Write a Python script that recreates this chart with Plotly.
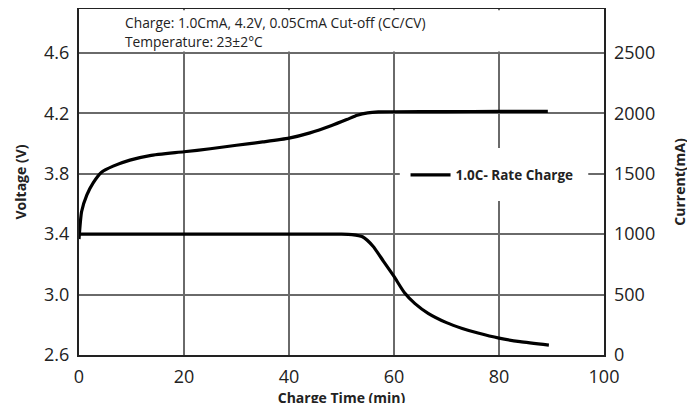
import plotly.graph_objects as go

# --- data ---
time_v = [0, 0.5, 1.5, 2.7, 4.3, 6.5, 9.7, 13.5, 20, 25, 30, 35, 40, 44, 48, 51, 53, 55, 57, 60, 70, 80, 89.3]
voltage = [3.367, 3.55, 3.66, 3.74, 3.81, 3.85, 3.89, 3.92, 3.945, 3.965, 3.988, 4.01, 4.035, 4.07, 4.117, 4.158, 4.187, 4.203, 4.209, 4.21, 4.211, 4.212, 4.213]

time_i = [0, 50, 52, 54, 56, 58, 60, 62, 64, 66.5, 70, 73, 76, 80, 84, 89.5]
current = [1000, 1000, 996, 978, 900, 775, 650, 515, 425, 345, 268, 220, 182, 140, 110, 82]

x_ticks = [0, 20, 40, 60, 80, 100]
v_ticks = [2.6, 3.0, 3.4, 3.8, 4.2, 4.6]
v_labels = ["2.6", "3.0", "3.4", "3.8", "4.2", "4.6"]
i_ticks = [0, 500, 1000, 1500, 2000, 2500]

legend_label = "1.0C- Rate Charge"
note_line1 = "Charge: 1.0CmA, 4.2V, 0.05CmA Cut-off (CC/CV)"
note_line2 = "Temperature: 23±2°C"

V_MIN, V_MAX = 2.6, 4.89
I_MAX = (V_MAX - V_MIN) / 0.4 * 500

FONT = "Open Sans"
GRID = "#6a6a6a"
TXT = "#222222"

fig = go.Figure()
fig.add_trace(go.Scatter(x=time_v, y=voltage, mode="lines", name=legend_label,
                         line=dict(color="black", width=3.2, shape="spline", smoothing=0.6),
                         showlegend=True, yaxis="y"))
fig.add_trace(go.Scatter(x=time_i, y=current, mode="lines", name=legend_label,
                         line=dict(color="black", width=3.2, shape="spline", smoothing=0.6),
                         showlegend=False, yaxis="y2"))

# white band above 4.6 V hides vertical gridlines there
fig.add_shape(type="rect", xref="paper", yref="y", x0=0.004, x1=0.996, y0=4.609, y1=V_MAX - 0.008,
              fillcolor="white", line=dict(width=0), layer="above")
# white backing box behind the legend
fig.add_shape(type="rect", xref="paper", yref="paper", x0=0.611, x1=0.97, y0=0.445, y1=0.598,
              fillcolor="white", line=dict(width=0), layer="above")

fig.add_annotation(text=note_line1, xref="paper", yref="paper", x=0.083, y=0.96,
                   xanchor="left", yanchor="middle", showarrow=False,
                   font=dict(family=FONT, size=13.8, color=TXT))
fig.add_annotation(text=note_line2, xref="paper", yref="paper", x=0.083, y=0.907,
                   xanchor="left", yanchor="middle", showarrow=False,
                   font=dict(family=FONT, size=13.8, color=TXT))

fig.update_layout(
    width=695, height=403,
    margin=dict(l=71, r=99, t=1, b=56),
    paper_bgcolor="white", plot_bgcolor="white",
    font=dict(family=FONT, color=TXT),
    showlegend=True,
    legend=dict(x=0.622, y=0.52, xanchor="left", yanchor="middle", itemwidth=40,
                bgcolor="rgba(255,255,255,0)", borderwidth=0,
                font=dict(family=FONT, size=13.5, color=TXT, weight="bold")),
    xaxis=dict(range=[0, 100], tickmode="array", tickvals=x_ticks, showgrid=True, gridcolor=GRID, gridwidth=1.5,
               showline=True, linecolor=TXT, linewidth=2, mirror=True, zeroline=False,
               ticklabelstandoff=4, automargin=False,
               tickfont=dict(family=FONT, size=18, color=TXT),
               title=dict(text="<b>Charge Time (min)</b>", standoff=2,
                          font=dict(family=FONT, size=14, color=TXT))),
    yaxis=dict(range=[V_MIN, V_MAX], tickmode="array", tickvals=v_ticks, ticktext=v_labels,
               showgrid=True, gridcolor=GRID, gridwidth=1.5,
               showline=True, linecolor=TXT, linewidth=2, mirror=True, zeroline=False,
               ticklabelstandoff=4, automargin=False,
               tickfont=dict(family=FONT, size=18, color=TXT),
               title=dict(text="<b>Voltage (V)</b>", standoff=14,
                          font=dict(family=FONT, size=14, color=TXT))),
    yaxis2=dict(range=[0, I_MAX], tickmode="array", tickvals=i_ticks, overlaying="y", side="right",
                showgrid=False, zeroline=False, showline=False, ticklabelstandoff=9,
                automargin=False,
                tickfont=dict(family=FONT, size=18, color=TXT),
                title=dict(text="<b>Current(mA)</b>", standoff=21,
                           font=dict(family=FONT, size=14, color=TXT))),
)

fig.write_html("out.html")
